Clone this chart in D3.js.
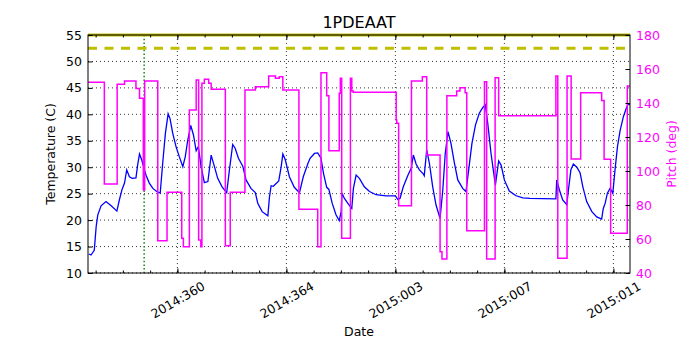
<!DOCTYPE html>
<html lang="en">
<head>
<meta charset="UTF-8">
<title>1PDEAAT</title>
<script src="https://cdn.jsdelivr.net/npm/d3@7"></script>
<style>
  body { margin: 0; background: #fff; }
  svg { display: block; font-family: "DejaVu Sans", sans-serif; }
</style>
</head>
<body>
<div id="chart"></div>
<script>
// day numbers are counted from the start of 2014 (2015:003 -> 368)
const tempDays = [356.75, 356.83, 356.95, 357.02, 357.08, 357.20, 357.38, 357.57, 357.78, 357.87,
  357.97, 358.06, 358.14, 358.24, 358.34, 358.48, 358.55, 358.61, 358.69, 358.79,
  358.85, 358.97, 359.10, 359.24, 359.37, 359.46, 359.56, 359.66, 359.73, 359.83,
  359.95, 360.07, 360.20, 360.29, 360.38, 360.49, 360.59, 360.69, 360.77, 360.87,
  360.99, 361.12, 361.24, 361.36, 361.48, 361.64, 361.81, 361.91, 362.03, 362.12,
  362.24, 362.40, 362.52, 362.70, 362.86, 362.95, 363.11, 363.32, 363.38, 363.44,
  363.52, 363.72, 363.81, 363.87, 363.96, 364.11, 364.29, 364.48, 364.62, 364.79,
  364.87, 365.03, 365.15, 365.27, 365.36, 365.48, 365.56, 365.68, 365.82, 365.94,
  366.01, 366.04, 366.13, 366.25, 366.40, 366.46, 366.56, 366.68, 366.86, 367.05,
  367.29, 367.66, 368.00, 368.09, 368.17, 368.29, 368.46, 368.58, 368.66, 368.76,
  368.88, 369.03, 369.06, 369.15, 369.25, 369.37, 369.49, 369.64, 369.74, 369.83,
  369.93, 370.04, 370.17, 370.29, 370.47, 370.59, 370.69, 370.81, 370.94, 371.08,
  371.21, 371.30, 371.39, 371.51, 371.67, 371.79, 371.88, 372.00, 372.18, 372.43,
  372.68, 372.94, 373.89, 373.92, 374.02, 374.14, 374.29, 374.35, 374.44, 374.53,
  374.66, 374.78, 374.88, 375.02, 375.21, 375.39, 375.57, 375.63, 375.70, 375.78,
  375.88, 375.98, 376.06, 376.15, 376.25, 376.37, 376.47, 376.55, 376.61];
const tempVals = [13.6, 13.4, 14.3, 18.8, 21.0, 22.7, 23.5, 22.7, 21.7, 23.8,
  25.8, 27.0, 29.5, 28.2, 27.9, 28.0, 30.7, 32.5, 31.4, 29.5,
  28.5, 27.0, 26.0, 25.4, 25.1, 30.7, 36.4, 40.1, 39.2, 36.4,
  33.9, 32.0, 30.1, 32.0, 35.1, 37.9, 36.1, 33.1, 33.9, 30.1,
  27.1, 27.3, 32.3, 30.1, 27.9, 26.3, 25.2, 29.5, 34.3, 33.6,
  31.7, 30.2, 27.6, 26.0, 25.2, 23.2, 21.6, 20.8, 24.4, 26.5,
  26.4, 27.4, 30.1, 32.5, 31.4, 28.2, 26.2, 25.2, 28.2, 30.7,
  31.7, 32.6, 32.7, 31.7, 28.9, 26.2, 25.8, 23.2, 21.0, 19.9,
  21.6, 25.1, 24.1, 23.2, 22.2, 26.0, 28.5, 27.9, 26.3, 25.4,
  24.8, 24.6, 24.6, 23.9, 24.1, 26.3, 28.5, 29.8, 32.3, 30.6,
  29.5, 28.7, 28.4, 33.3, 30.7, 26.3, 22.9, 20.3, 25.7, 32.6,
  36.7, 34.5, 30.7, 27.6, 26.0, 25.4, 29.5, 34.5, 38.0, 40.2,
  41.3, 41.8, 38.3, 32.6, 26.6, 31.2, 30.4, 27.6, 25.5, 24.6,
  24.2, 24.1, 24.0, 27.6, 25.7, 23.8, 22.9, 25.7, 29.5, 30.6,
  30.0, 28.9, 26.3, 23.5, 21.6, 20.6, 20.2, 22.2, 23.2, 25.1,
  26.0, 25.1, 29.5, 33.9, 37.0, 39.6, 41.1, 42.0, 41.8];

// pitch is a step series: each value holds until the next day
const pitchDays = [356.72, 357.32, 357.79, 358.06, 358.48, 358.61, 358.75, 358.80, 359.28, 359.62,
  360.16, 360.22, 360.44, 360.69, 360.78, 360.86, 360.90, 360.99, 361.15, 361.24,
  361.76, 361.94, 362.48, 362.86, 363.35, 363.60, 363.74, 363.87, 364.46, 365.15,
  365.27, 365.48, 365.56, 365.94, 365.98, 366.03, 366.35, 366.40, 366.45, 368.03,
  368.05, 368.12, 368.59, 368.99, 369.15, 369.64, 369.71, 369.89, 370.25, 370.37,
  370.56, 370.62, 371.27, 371.35, 371.66, 371.79, 373.89, 373.96, 374.30, 374.45,
  374.80, 375.57, 375.66, 375.90, 376.51, 376.61];
const pitchVals = [152.2, 92.4, 151.0, 152.9, 148.6, 142.8, 88.8, 152.9, 59.0, 87.5,
  60.4, 55.5, 135.9, 153.5, 59.4, 55.5, 151.6, 153.9, 151.6, 148.1,
  56.1, 87.5, 147.6, 149.6, 155.9, 154.5, 155.5, 147.6, 77.5, 55.5,
  157.8, 144.3, 111.9, 145.7, 154.5, 60.4, 154.5, 147.1, 146.3, 130.0,
  128.1, 79.6, 152.9, 155.5, 109.4, 52.5, 48.2, 144.3, 147.1, 149.0,
  146.1, 64.9, 152.5, 48.2, 154.9, 132.5, 155.9, 48.7, 155.9, 107.1,
  146.1, 141.4, 106.9, 63.4, 150.0, 150.0];

const limitHigh = 55;
const limitPlan = 52.5;
const markerDay = 358.78;

const majorTickDays = [360, 364, 368, 372, 376];
const tempTicks = [10, 15, 20, 25, 30, 35, 40, 45, 50, 55];
const pitchTicks = [40, 60, 80, 100, 120, 140, 160, 180];

const W = 700, H = 350;
const margin = {top: 35, right: 70, bottom: 77, left: 88};
const x0 = margin.left, x1 = W - margin.right, y0 = margin.top, y1 = H - margin.bottom;

const toDate = d => new Date(Date.UTC(2014, 0, 1) + (d - 1) * 864e5);
const fmt = d3.utcFormat("%Y:%j");

const x = d3.scaleUtc().domain(d3.extent(pitchDays).map(toDate)).range([x0, x1]);
const yT = d3.scaleLinear().domain([d3.min(tempTicks), d3.max(tempTicks)]).range([y1, y0]);
const yP = d3.scaleLinear().domain([d3.min(pitchTicks), d3.max(pitchTicks)]).range([y1, y0]);

const svg = d3.select("#chart").append("svg").attr("width", W).attr("height", H);

svg.append("defs").append("clipPath").attr("id", "plot")
  .append("rect").attr("x", x0).attr("y", y0).attr("width", x1 - x0).attr("height", y1 - y0);

// grid
const grid = svg.append("g").attr("stroke", "#000").attr("stroke-width", 0.8).attr("stroke-dasharray", "1,3");
grid.selectAll(".gx").data(majorTickDays).join("line")
  .attr("x1", d => x(toDate(d))).attr("x2", d => x(toDate(d))).attr("y1", y0).attr("y2", y1);
grid.selectAll(".gy").data(tempTicks).join("line")
  .attr("x1", x0).attr("x2", x1).attr("y1", d => yT(d)).attr("y2", d => yT(d));

const plot = svg.append("g").attr("clip-path", "url(#plot)");

// temperature side
plot.append("line")
  .attr("x1", x(toDate(markerDay))).attr("x2", x(toDate(markerDay))).attr("y1", y0).attr("y2", y1)
  .attr("stroke", "#008000").attr("stroke-width", 1.4).attr("stroke-dasharray", "1.5,2.2");

plot.append("line")
  .attr("x1", x0).attr("x2", x1).attr("y1", yT(limitPlan)).attr("y2", yT(limitPlan))
  .attr("stroke", "#bfbf00").attr("stroke-width", 3).attr("stroke-dasharray", "9,7.5");

const tempLine = d3.line().x((d, i) => x(toDate(tempDays[i]))).y(d => yT(d));
plot.append("path").datum(tempVals).attr("d", tempLine)
  .attr("fill", "none").attr("stroke", "#0000ff").attr("stroke-width", 1.3);

// pitch side (twin axis, on top)
const pitchLine = d3.line().curve(d3.curveStepAfter)
  .x((d, i) => x(toDate(pitchDays[i]))).y(d => yP(d));
plot.append("path").datum(pitchVals).attr("d", pitchLine)
  .attr("fill", "none").attr("stroke", "#ff00ff").attr("stroke-width", 1.5);

svg.append("line")
  .attr("x1", x0).attr("x2", x1).attr("y1", yT(limitHigh)).attr("y2", yT(limitHigh))
  .attr("stroke", "#bfbf00").attr("stroke-width", 3);

// axes: ticks point inward
const minorDays = d3.utcDay.range(x.domain()[0], x.domain()[1]);

function styleAxis(g) {
  g.select(".domain").remove();
  g.selectAll("line").attr("stroke", "#000");
  g.attr("font-family", null).attr("font-size", 12.5);
}

svg.append("g").attr("transform", `translate(0,${y1})`)
  .call(d3.axisBottom(x).tickValues(minorDays).tickSize(-2.5).tickFormat(""))
  .call(styleAxis);
svg.append("g").attr("transform", `translate(0,${y0})`)
  .call(d3.axisTop(x).tickValues(minorDays).tickSize(-2.5).tickFormat(""))
  .call(styleAxis);
svg.append("g").attr("transform", `translate(0,${y0})`)
  .call(d3.axisTop(x).tickValues(majorTickDays.map(toDate)).tickSize(-4.5).tickFormat(""))
  .call(styleAxis);

const xAxis = svg.append("g").attr("transform", `translate(0,${y1})`)
  .call(d3.axisBottom(x).tickValues(majorTickDays.map(toDate)).tickSize(-4.5).tickFormat(fmt))
  .call(styleAxis);
xAxis.selectAll("text")
  .attr("y", 0).attr("dy", "0.35em").attr("text-anchor", "middle")
  .attr("transform", "translate(0,27) rotate(-30)")
  .attr("fill", "#000");

svg.append("g").attr("transform", `translate(${x0},0)`)
  .call(d3.axisLeft(yT).tickValues(tempTicks).tickSize(-4.5).tickPadding(6))
  .call(styleAxis)
  .selectAll("text").attr("fill", "#000");

svg.append("g").attr("transform", `translate(${x1},0)`)
  .call(d3.axisRight(yP).tickValues(pitchTicks).tickSize(-4.5).tickPadding(6))
  .call(styleAxis)
  .selectAll("text").attr("fill", "#ff00ff");

// frame
svg.append("rect").attr("x", x0).attr("y", y0).attr("width", x1 - x0).attr("height", y1 - y0)
  .attr("fill", "none").attr("stroke", "#000").attr("stroke-width", 1);

// labels
svg.append("text").attr("x", (x0 + x1) / 2).attr("y", 28).attr("text-anchor", "middle")
  .attr("font-size", 16).text("1PDEAAT");
svg.append("text").attr("x", (x0 + x1) / 2).attr("y", 336).attr("text-anchor", "middle")
  .attr("font-size", 12.5).text("Date");
svg.append("text").attr("transform", `translate(54.5,${(y0 + y1) / 2}) rotate(-90)`)
  .attr("text-anchor", "middle").attr("font-size", 12.5).text("Temperature (C)");
svg.append("text").attr("transform", `translate(675.5,${(y0 + y1) / 2}) rotate(-90)`)
  .attr("text-anchor", "middle").attr("font-size", 12.5).attr("fill", "#ff00ff").text("Pitch (deg)");
</script>
</body>
</html>
